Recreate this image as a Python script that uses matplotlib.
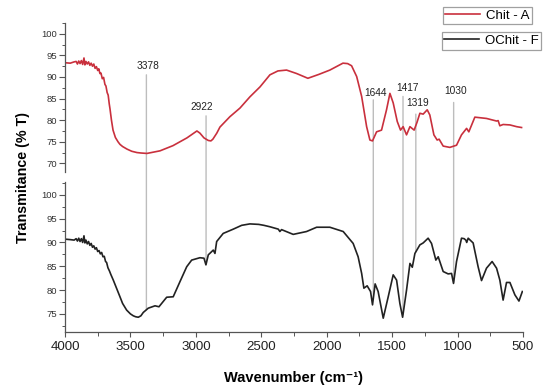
import matplotlib
matplotlib.use("Agg")
import matplotlib.pyplot as plt
import numpy as np
from matplotlib.patches import ConnectionPatch
from matplotlib.ticker import MultipleLocator, AutoMinorLocator

plt.rcParams['font.family'] = ['Liberation Sans', 'DejaVu Sans']

# ---- data ----
wn_a = [4000, 3960, 3930, 3915, 3905, 3895, 3885, 3875, 3865, 3855, 3848, 3840, 3830,
        3820, 3810, 3800, 3790, 3780, 3770, 3760, 3750, 3742, 3733, 3725, 3715, 3705,
        3695, 3687, 3678, 3670, 3662, 3656, 3645, 3633, 3615, 3595, 3580, 3560, 3526,
        3490, 3450, 3420, 3374, 3274, 3175, 3068, 2992, 2969, 2938, 2905, 2885, 2870,
        2840, 2816, 2740, 2663, 2587, 2510, 2434, 2373, 2307, 2230, 2144, 2060, 1976,
        1876, 1840, 1810, 1771, 1733, 1695, 1670, 1650, 1619, 1581, 1543, 1517, 1492,
        1461, 1436, 1416, 1390, 1364, 1332, 1310, 1288, 1263, 1232, 1212, 1181, 1156,
        1141, 1110, 1059, 1008, 970, 931, 914, 868, 779, 702, 690, 677, 652, 600, 549,
        511]
tr_a = [93.3, 93.2, 93.5, 93.6, 93.0, 93.7, 93.1, 93.8, 92.9, 94.4, 92.8, 93.6, 93.0,
        93.5, 92.7, 93.2, 92.5, 93.0, 92.0, 92.4, 91.5, 91.9, 90.8, 90.9, 89.6, 89.9,
        88.3, 87.9, 86.4, 85.8, 83.8, 82.6, 80.0, 77.7, 76.0, 75.0, 74.4, 73.9, 73.3,
        72.8, 72.5, 72.4, 72.3, 72.9, 74.1, 75.9, 77.5, 77.0, 75.9, 75.3, 75.2, 75.6,
        77.0, 78.4, 80.8, 82.8, 85.4, 87.7, 90.5, 91.4, 91.6, 90.8, 89.7, 90.6, 91.6,
        93.2, 93.1, 92.6, 90.1, 85.5, 78.5, 75.4, 75.2, 77.3, 77.7, 82.4, 86.2, 84.0,
        79.7, 77.7, 78.5, 76.6, 78.5, 77.7, 79.5, 81.6, 81.4, 82.4, 81.2, 76.6, 75.4,
        75.6, 74.0, 73.7, 74.2, 76.6, 78.1, 77.3, 80.7, 80.4, 79.8, 79.9, 78.7, 79.0,
        78.9, 78.5, 78.3]

wn_f = [4000, 3960, 3930, 3915, 3905, 3895, 3885, 3875, 3865, 3855, 3848, 3840, 3830,
        3820, 3810, 3800, 3790, 3780, 3770, 3760, 3750, 3740, 3730, 3720, 3710, 3700,
        3690, 3682, 3672, 3660, 3650, 3631, 3580, 3560, 3529, 3500, 3478, 3460, 3440,
        3420, 3402, 3364, 3312, 3282, 3223, 3173, 3121, 3070, 3032, 2969, 2938, 2923,
        2905, 2867, 2854, 2841, 2791, 2714, 2650, 2587, 2520, 2480, 2434, 2370, 2358,
        2345, 2256, 2154, 2077, 1976, 1874, 1798, 1760, 1733, 1716, 1691, 1665, 1650,
        1630, 1607, 1568, 1530, 1492, 1466, 1441, 1420, 1390, 1364, 1346, 1326, 1288,
        1263, 1225, 1199, 1166, 1148, 1110, 1072, 1046, 1031, 1008, 970, 950, 937, 930,
        919, 881, 843, 817, 779, 736, 702, 677, 652, 626, 600, 562, 531, 505]
tr_f = [90.7, 90.6, 90.5, 90.8, 90.3, 90.9, 90.2, 90.8, 90.0, 91.4, 89.9, 90.5, 89.7,
        90.2, 89.4, 89.8, 89.0, 89.3, 88.6, 88.9, 88.1, 88.3, 87.6, 87.9, 87.0, 87.1,
        86.0, 85.8, 84.7, 84.0, 83.3, 82.1, 78.6, 77.2, 75.8, 75.0, 74.6, 74.4, 74.3,
        74.6, 75.3, 76.2, 76.7, 76.5, 78.5, 78.6, 81.8, 84.9, 86.3, 86.8, 86.7, 85.3,
        87.4, 88.4, 87.7, 90.2, 91.9, 92.8, 93.6, 93.9, 93.8, 93.6, 93.3, 92.8, 92.3,
        92.7, 91.7, 92.3, 93.2, 93.2, 92.3, 89.8, 87.0, 83.5, 80.4, 80.9, 79.7, 76.9,
        81.3, 79.7, 74.1, 78.6, 83.2, 82.1, 77.2, 74.3, 80.0, 85.6, 84.8, 87.7, 89.5,
        89.9, 90.9, 89.8, 86.3, 87.0, 83.9, 83.4, 83.5, 81.4, 86.0, 90.9, 90.8, 90.5,
        90.0, 90.9, 89.9, 84.9, 82.0, 84.6, 86.0, 84.6, 82.1, 77.9, 81.6, 81.6, 79.0,
        77.7, 79.7]

peaks = [3378, 2922, 1644, 1417, 1319, 1030]
peak_labels = ['3378', '2922', '1644', '1417', '1319', '1030']
# layout of the marker lines / labels (upper panel units)
line_top = [90.5, 81.0, 84.7, 85.5, 81.4, 84.1]
label_x = [3368, 2953, 1628, 1384, 1309, 1015]
label_y = [92.6, 83.1, 86.3, 87.5, 84.0, 86.8]

series_names = ['Chit - A', 'OChit - F']

# ---- figure ----
W, H = 550, 390
fig = plt.figure(figsize=(W / 100, H / 100), dpi=100)
ax1 = fig.add_axes([65 / W, 1 - 172 / H, 458 / W, 149 / H])
ax2 = fig.add_axes([65 / W, 1 - 332 / H, 458 / W, 150 / H])

red = '#c9303d'
blk = '#222222'
l1, = ax1.plot(wn_a, tr_a, color=red, lw=1.2)
l2, = ax2.plot(wn_f, tr_f, color=blk, lw=1.2)

for ax in (ax1, ax2):
    ax.set_facecolor('none')
    ax.set_xlim(4000, 500)
    for s in ('top', 'right'):
        ax.spines[s].set_visible(False)
    ax.spines['left'].set_color('#555555')
    ax.spines['left'].set_linewidth(0.9)
    ax.yaxis.set_minor_locator(AutoMinorLocator(2))
    ax.tick_params(axis='y', which='major', length=4.5, width=0.8, color='#555555',
                   labelsize=6.8, labelcolor='#333333', pad=1.5)
    ax.tick_params(axis='y', which='minor', length=2.5, width=0.7, color='#555555')

ax1.spines['bottom'].set_visible(False)
ax1.tick_params(axis='x', which='both', bottom=False, labelbottom=False)
ax1.set_ylim(68, 102.5)
ax1.set_yticks(np.arange(70, 101, 5))

ax2.set_ylim(71.2, 102.7)
ax2.set_yticks(np.arange(75, 101, 5))
ax2.spines['bottom'].set_color('#555555')
ax2.spines['bottom'].set_linewidth(0.9)
ax2.xaxis.set_major_locator(MultipleLocator(500))
ax2.xaxis.set_minor_locator(MultipleLocator(250))
ax2.tick_params(axis='x', which='major', length=3.5, width=0.8, color='#555555',
                labelsize=9.6, labelcolor='#222222', pad=3)
ax2.tick_params(axis='x', which='minor', length=3, width=0.7, color='#555555')
ax2.set_xlabel('Wavenumber (cm\u207b\u00b9)', fontsize=10.5, fontweight='bold',
               labelpad=13)

fig.text(23 / W, 1 - 178 / H, 'Transmitance (% T)', rotation=90, ha='center',
         va='center', fontsize=10.3, fontweight='bold')

# marker lines
bot_vals = np.interp(peaks, wn_f[::-1], tr_f[::-1])
for p, top, bot in zip(peaks, line_top, bot_vals):
    cp = ConnectionPatch(xyA=(p, top), coordsA=ax1.transData,
                         xyB=(p, bot), coordsB=ax2.transData,
                         color='#bdbdbd', lw=1.0, zorder=-1)
    fig.add_artist(cp)
for lab, lx, ly in zip(peak_labels, label_x, label_y):
    ax1.text(lx, ly, lab, ha='center', va='center', fontsize=7.3, color='#222222')

# legends (two separate boxes)
for handle, name, (lx, ly) in zip([l1, l2], series_names,
                                  [(442.7, 6.7), (441.7, 32.0)]):
    leg = fig.legend([handle], [name], loc='upper left',
                     bbox_to_anchor=(lx / W, 1 - ly / H), frameon=True,
                     fancybox=False, edgecolor='#a0a0a0', framealpha=1,
                     fontsize=9.5, borderpad=0.2, handlelength=2.6,
                     handletextpad=0.45, borderaxespad=0)
    leg.get_frame().set_linewidth(0.9)

fig.savefig('out.png', dpi=100)
